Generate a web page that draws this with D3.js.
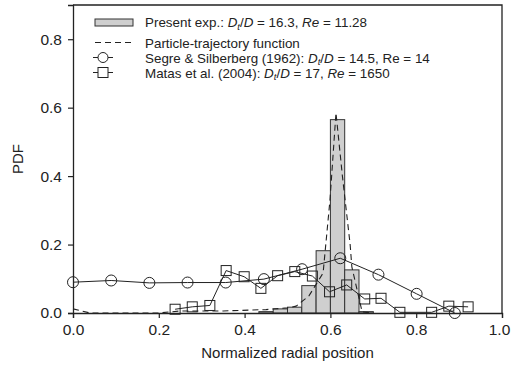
<!DOCTYPE html>
<html><head><meta charset="utf-8">
<script src="https://cdn.jsdelivr.net/npm/d3@7"></script>
<style>
body{margin:0;background:#fff;}
text{font-family:"Liberation Sans",Arial,sans-serif;fill:#222;}
</style></head>
<body><svg id="c" width="511" height="376"></svg>
<script>
// Histogram (present experiment): bin left edges and PDF values
const binLeft = [0.4333, 0.4667, 0.5, 0.5333, 0.5667, 0.6, 0.6333, 0.6667];
const binPdf  = [0.004, 0.012, 0.017, 0.080, 0.182, 0.565, 0.126, 0.004];
const binWidth = 1/30;

// Particle-trajectory function (dashed)
const trajX = [0, 0.04, 0.2, 0.25, 0.35, 0.45, 0.5, 0.52, 0.55, 0.583, 0.599, 0.613, 0.628, 0.646, 0.65, 0.674, 0.7];
const trajY = [0.012, 0.0, 0.0, 0.006, 0.006, 0.01, 0.015, 0.02, 0.05, 0.117, 0.33, 0.585, 0.40, 0.2, 0.135, 0.003, 0.0];

// Segre & Silberberg (1962)
const segreX = [0, 0.089, 0.178, 0.267, 0.356, 0.445, 0.534, 0.623, 0.712, 0.801, 0.890];
const segreY = [0.090, 0.095, 0.088, 0.089, 0.089, 0.099, 0.128, 0.160, 0.112, 0.056, 0.0];

// Matas et al. (2004)
const matasX = [0.238, 0.278, 0.319, 0.357, 0.399, 0.438, 0.477, 0.517, 0.558, 0.598, 0.638, 0.680, 0.718, 0.762, 0.836, 0.876, 0.921];
const matasY = [0.011, 0.018, 0.022, 0.124, 0.106, 0.072, 0.109, 0.121, 0.108, 0.062, 0.082, 0.041, 0.043, 0.002, 0.002, 0.020, 0.018];

const xTicks = [0, 0.2, 0.4, 0.6, 0.8, 1.0];
const yTicks = [0, 0.2, 0.4, 0.6, 0.8];

const svg = d3.select("#c");
const L = 73, R = 502, T = 5, B = 313;
const x = d3.scaleLinear().domain([0, 1]).range([L, R]);
const y = d3.scaleLinear().domain([0, 0.9]).range([B, T]);
const ink = "#222";

// bars
svg.append("g").selectAll("rect").data(binLeft).join("rect")
  .attr("x", (d) => x(d)).attr("width", (d) => x(d + binWidth) - x(d))
  .attr("y", (d, i) => y(binPdf[i])).attr("height", (d, i) => y(0) - y(binPdf[i]))
  .attr("fill", "#cfcfcf").attr("stroke", "#333").attr("stroke-width", 1);

// dashed function
const line = d3.line().x((d) => x(d[0])).y((d) => y(d[1]));
svg.append("path").datum(trajX.map((v, i) => [v, trajY[i]]))
  .attr("d", line).attr("fill", "none").attr("stroke", ink).attr("stroke-width", 1.1)
  .attr("stroke-dasharray", "6,4");

// Segre
const segre = segreX.map((v, i) => [v, segreY[i]]);
svg.append("path").datum(segre).attr("d", line).attr("fill", "none").attr("stroke", ink).attr("stroke-width", 1);
svg.append("g").selectAll("circle").data(segre).join("circle")
  .attr("cx", (d) => x(d[0])).attr("cy", (d) => y(d[1])).attr("r", 5.5)
  .attr("fill", "none").attr("stroke", ink).attr("stroke-width", 1);

// Matas
const matas = matasX.map((v, i) => [v, matasY[i]]);
svg.append("path").datum(matas).attr("d", line).attr("fill", "none").attr("stroke", ink).attr("stroke-width", 1);
svg.append("g").selectAll("rect").data(matas).join("rect")
  .attr("x", (d) => x(d[0]) - 5).attr("y", (d) => y(d[1]) - 5).attr("width", 10).attr("height", 10)
  .attr("fill", "none").attr("stroke", ink).attr("stroke-width", 1);

// axes
const xa = svg.append("g").attr("transform", `translate(0,${B})`)
  .call(d3.axisBottom(x).tickValues(xTicks).tickFormat(d3.format(".1f")).tickSizeOuter(0).tickSize(5));
const ya = svg.append("g").attr("transform", `translate(${L},0)`)
  .call(d3.axisLeft(y).tickValues(yTicks).tickFormat(d3.format(".1f")).tickSizeOuter(0).tickSize(5));
[xa, ya].forEach((a) => {
  a.select(".domain").attr("stroke", ink).attr("stroke-width", 1.3);
  a.selectAll(".tick line").attr("stroke", ink).attr("stroke-width", 1.2);
  a.selectAll(".tick text").attr("font-size", 15.5).attr("fill", ink).style("font-family", "Liberation Sans, Arial, sans-serif");
});
xa.selectAll(".tick text").attr("dy", "0.9em");
xa.selectAll(".tick:last-of-type text").attr("dx", -3);
ya.selectAll(".tick text").attr("x", -11);

// frame top/right
svg.append("path").attr("d", `M${L},${T}H${R}V${B}`).attr("fill", "none").attr("stroke", ink).attr("stroke-width", 1.3);

// axis titles
svg.append("text").attr("x", (L + R) / 2).attr("y", 358).attr("text-anchor", "middle").attr("font-size", 15).text("Normalized radial position");
svg.append("text").attr("transform", "translate(23,159) rotate(-90)").attr("text-anchor", "middle").attr("font-size", 15).text("PDF");

// legend
const lg = svg.append("g");
const rows = [22, 42.5, 57.5, 72.5];
const tx = 145, fs = 13.4;
lg.append("rect").attr("x", 95).attr("y", rows[0] - 3).attr("width", 38).attr("height", 7)
  .attr("fill", "#cfcfcf").attr("stroke", "#333");
lg.append("line").attr("x1", 95).attr("x2", 133).attr("y1", rows[1]).attr("y2", rows[1])
  .attr("stroke", ink).attr("stroke-width", 1.1).attr("stroke-dasharray", "6,4");
lg.append("line").attr("x1", 93).attr("x2", 113).attr("y1", rows[2]).attr("y2", rows[2]).attr("stroke", ink);
lg.append("circle").attr("cx", 103).attr("cy", rows[2]).attr("r", 5).attr("fill", "#fff").attr("stroke", ink);
lg.append("line").attr("x1", 93).attr("x2", 113).attr("y1", rows[3]).attr("y2", rows[3]).attr("stroke", ink);
lg.append("rect").attr("x", 98).attr("y", rows[3] - 5).attr("width", 10).attr("height", 10).attr("fill", "#fff").attr("stroke", ink);

function rich(yc, parts) {
  const t = lg.append("text").attr("x", tx).attr("y", yc + 5).attr("font-size", fs);
  parts.forEach((p) => {
    const s = t.append("tspan").text(p[0]);
    if (p[1] === "i") s.attr("font-style", "italic");
    if (p[1] === "sub") s.attr("font-style", "italic").attr("font-size", 9.5).attr("dy", 2.5);
    if (p[1] === "after") s.attr("dy", -2.5);
  });
}
rich(rows[0], [["Present exp.: "], ["D", "i"], ["t", "sub"], ["/", "after"], ["D", "i"], [" = 16.3, "], ["Re", "i"], [" = 11.28"]]);
rich(rows[1], [["Particle-trajectory function"]]);
rich(rows[2], [["Segre & Silberberg (1962): "], ["D", "i"], ["t", "sub"], ["/", "after"], ["D", "i"], [" = 14.5, Re = 14"]]);
rich(rows[3], [["Matas et al. (2004): "], ["D", "i"], ["t", "sub"], ["/", "after"], ["D", "i"], [" = 17, "], ["Re", "i"], [" = 1650"]]);
</script></body></html>
